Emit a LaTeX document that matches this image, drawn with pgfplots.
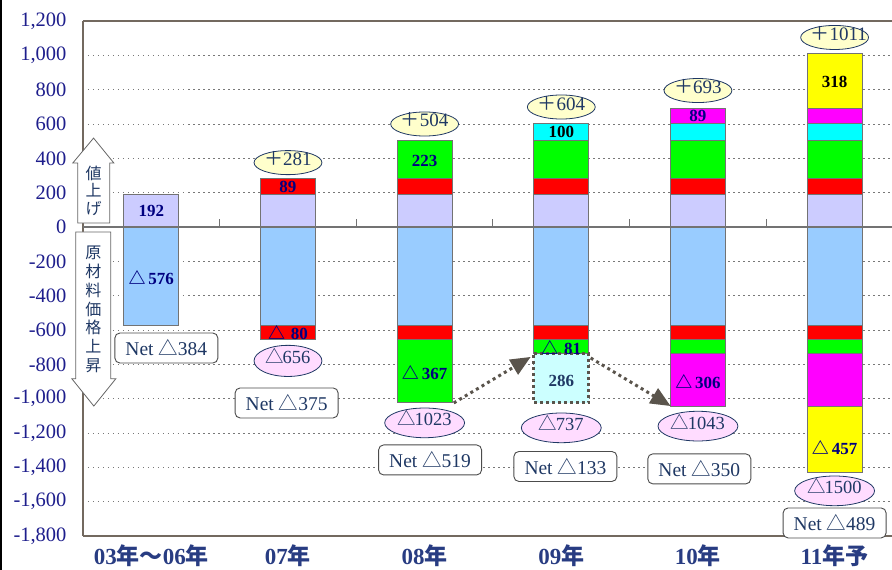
\documentclass[border=0pt]{standalone}
\usepackage{pgfplots}
\pgfplotsset{compat=1.18}
\usepackage{fontspec}
\setmainfont{Liberation Serif}
\newfontfamily\cjk{Noto Sans CJK JP}
\usetikzlibrary{arrows.meta,shapes.geometric}
\definecolor{lav}{RGB}{204,204,255}
\definecolor{lblue}{RGB}{153,204,255}
\definecolor{cred}{RGB}{255,0,0}
\definecolor{cgreen}{RGB}{0,255,0}
\definecolor{ccyan}{RGB}{0,255,255}
\definecolor{cmag}{RGB}{255,0,255}
\definecolor{cyel}{RGB}{255,255,0}
\definecolor{boxcyan}{RGB}{204,255,255}
\definecolor{navy}{RGB}{0,0,128}
\definecolor{dnavy}{RGB}{31,56,100}
\definecolor{ticknavy}{RGB}{30,30,140}
\definecolor{xlab}{RGB}{40,60,130}
\definecolor{edge}{RGB}{115,115,115}
\definecolor{framec}{RGB}{115,105,95}
\definecolor{gridc}{RGB}{120,120,120}
\definecolor{arrowgray}{RGB}{90,84,76}
\definecolor{ellY}{RGB}{255,255,204}
\definecolor{ellP}{RGB}{255,220,255}
\protected\def\J#1{{\cjk #1}}
\protected\def\tri{{\cjk △}}
\protected\def\trik{{\cjk △}\kern-1.5pt}
\protected\def\labA{03{\cjk 年}{\cjk\symbol{"FF5E}}06{\cjk 年}}
\protected\def\labB{07{\cjk 年}}
\protected\def\labC{08{\cjk 年}}
\protected\def\labD{09{\cjk 年}}
\protected\def\labE{10{\cjk 年}}
\protected\def\labF{11{\cjk 年予}}
\tikzset{
  blab/.style={font=\fontsize{17}{17}\selectfont\bfseries, text=navy, inner sep=0pt},
  netbox/.style={draw=black!70, line width=0.9pt, fill=white, rounded corners=5pt,
    minimum width=103pt, minimum height=30pt, inner sep=0pt,
    font=\fontsize{19.5}{19.5}\selectfont, text=dnavy},
  topell/.style={ellipse, fill=ellY, draw=dnavy, line width=0.8pt, inner sep=0pt,
    text width=48pt, align=center, text height=11.5pt, text depth=5.5pt,
    font=\fontsize{19}{19}\selectfont, text=dnavy},
  botell/.style={ellipse, fill=ellP, draw=dnavy, line width=0.8pt, inner sep=0pt,
    text width=56.5pt, align=center, text height=13.5pt, text depth=7.5pt,
    font=\fontsize{18.5}{18.5}\selectfont, text=dnavy},
  darr/.style={draw=arrowgray, line width=3pt, dash pattern=on 3pt off 3.5pt,
    -{Triangle[length=20pt,width=17pt]}, arrowgray},
  larrow/.style={fill=white, draw=black!60, line width=0.8pt},
  smalltick/.style={draw=black!55, line width=1pt},
}
\pgfplotsset{
  ax/.style={scale only axis, width=809pt, height=515pt,
    xmin=-0.5, xmax=5.42, ymin=-1800, ymax=1200},
}
\begin{document}
\begin{tikzpicture}
\begin{axis}[
  ax,
  ybar stacked, bar width=55pt,
  axis x line*=bottom, axis y line*=left,
  axis line style={draw=framec, line width=1.2pt},
  xtick={0,1,2,3,4,5},
  xticklabels={\labA,\labB,\labC,\labD,\labE,\labF},
  ytick={-1800,-1600,-1400,-1200,-1000,-800,-600,-400,-200,0,200,400,600,800,1000,1200},
  major tick length=0pt,
  /pgf/number format/.cd, 1000 sep={,}, assume math mode=true, /pgfplots/.cd,
  yticklabel style={font=\fontsize{20.5}{20.5}\selectfont, text=ticknavy, xshift=-13pt},
  xticklabel style={font=\fontsize{23}{23}\selectfont\bfseries, text=xlab, yshift=-5pt},
  ymajorgrids,
  grid style={draw=gridc, line width=0.9pt, dash pattern=on 1.5pt off 3.5pt},
  clip=false,
  every axis plot/.append style={draw=edge, line width=1pt},
]
\draw[framec, line width=1.2pt] (axis cs:-0.5,1200) -- (axis cs:5.42,1200);
\draw[draw=black!55, line width=1.3pt] (axis cs:-0.5,0) -- (axis cs:5.42,0);
\draw[smalltick] (axis cs:0.5,0) -- (axis cs:0.5,47);
\draw[smalltick] (axis cs:1.5,0) -- (axis cs:1.5,47);
\draw[smalltick] (axis cs:2.5,0) -- (axis cs:2.5,47);
\draw[smalltick] (axis cs:3.5,0) -- (axis cs:3.5,47);
\draw[smalltick] (axis cs:4.5,0) -- (axis cs:4.5,47);
% positive stack
\addplot[fill=lav] coordinates {(0,192) (1,192) (2,192) (3,192) (4,192) (5,192)};
\addplot[fill=cred] coordinates {(0,0) (1,89) (2,89) (3,89) (4,89) (5,89)};
\addplot[fill=cgreen] coordinates {(0,0) (1,0) (2,223) (3,223) (4,223) (5,223)};
\addplot[fill=ccyan] coordinates {(0,0) (1,0) (2,0) (3,100) (4,100) (5,100)};
\addplot[fill=cmag] coordinates {(0,0) (1,0) (2,0) (3,0) (4,89) (5,89)};
\addplot[fill=cyel] coordinates {(0,0) (1,0) (2,0) (3,0) (4,0) (5,318)};
% negative stack (stacks separately from zero)
\addplot[fill=lblue] coordinates {(0,-576) (1,-576) (2,-576) (3,-576) (4,-576) (5,-576)};
\addplot[fill=cred] coordinates {(0,0) (1,-80) (2,-80) (3,-80) (4,-80) (5,-80)};
\addplot[fill=cgreen] coordinates {(0,0) (1,0) (2,-367) (3,-81) (4,-81) (5,-81)};
\addplot[fill=cmag] coordinates {(0,0) (1,0) (2,0) (3,0) (4,-306) (5,-306)};
\addplot[fill=cyel] coordinates {(0,0) (1,0) (2,0) (3,0) (4,0) (5,-390)};
\end{axis}

\begin{axis}[ax, ybar stacked, bar width=55pt, hide axis, clip=false]
\addplot[draw=none, fill=none] coordinates {(3,-737)};
\addplot[fill=boxcyan, draw=arrowgray, line width=3pt, dash pattern=on 3pt off 3pt] coordinates {(3,-286)};
% arrows between columns
\draw[darr] (axis cs:2.213,-1025) -- (axis cs:2.776,-757);
\draw[darr] (axis cs:3.215,-763) -- (axis cs:3.80,-1043);
% left vertical arrows
\draw[larrow] (axis cs:-0.5378,23) -- (axis cs:-0.5378,373) -- (axis cs:-0.5744,373)
  -- (axis cs:-0.4228,518) -- (axis cs:-0.2744,373) -- (axis cs:-0.3037,373)
  -- (axis cs:-0.3037,23) -- cycle;
\draw[larrow] (axis cs:-0.5525,-29) -- (axis cs:-0.5525,-884) -- (axis cs:-0.5817,-884)
  -- (axis cs:-0.4207,-1043) -- (axis cs:-0.2598,-884) -- (axis cs:-0.2963,-884)
  -- (axis cs:-0.2963,-29) -- cycle;
\end{axis}

\begin{axis}[ax, hide axis, clip=false]
\node[align=center, inner sep=0pt, text=dnavy, font=\cjk\fontsize{16}{17.5}\selectfont] at (axis cs:-0.4228,213) {値\\上\\げ};
\node[align=center, inner sep=0pt, text=dnavy, font=\cjk\fontsize{16}{18.8}\selectfont] at (axis cs:-0.424,-480) {原\\材\\料\\価\\格\\上\\昇};

% segment labels
\node[blab] at (axis cs:0,96) {192};
\node[blab] at (axis cs:0,-295) {\tri\,576};
\node[blab] at (axis cs:1,236) {89};
\node[blab] at (axis cs:1,-616) {\tri\,\,80};
\node[blab] at (axis cs:2,385) {223};
\node[blab] at (axis cs:2,-848) {\tri\,367};
\node[blab, text=black] at (axis cs:3,554) {100};
\node[blab] at (axis cs:3,-702) {\tri\,\,81};
\node[blab, text=dnavy] at (axis cs:3,-895) {286};
\node[blab] at (axis cs:4,648) {89};
\node[blab] at (axis cs:4,-902) {\tri\,306};
\node[blab, text=black] at (axis cs:5,845) {318};
\node[blab] at (axis cs:5,-1285) {\tri\,457};

% top ellipses
\node[topell] at (axis cs:1,375) {\J{＋}281};
\node[topell] at (axis cs:2,600) {\J{＋}504};
\node[topell] at (axis cs:3,699) {\J{＋}604};
\node[topell] at (axis cs:4,795) {\J{＋}693};
\node[topell] at (axis cs:5,1104) {\J{＋}1011};

% bottom ellipses
\node[botell, text width=48pt, text height=14pt, text depth=8pt] at (axis cs:1,-780) {\trik656};
\node[botell] at (axis cs:2,-1141) {\trik1023};
\node[botell] at (axis cs:3,-1170) {\trik737};
\node[botell] at (axis cs:4,-1160) {\trik1043};
\node[botell] at (axis cs:5,-1537) {\trik1500};

% net boxes
\node[netbox] at (axis cs:0.11,-705) {Net \tri384};
\node[netbox] at (axis cs:0.99,-1025) {Net \tri375};
\node[netbox] at (axis cs:2.04,-1357) {Net \tri519};
\node[netbox] at (axis cs:3.03,-1395) {Net \tri133};
\node[netbox] at (axis cs:4.01,-1409) {Net \tri350};
\node[netbox] at (axis cs:5.0,-1724) {Net \tri489};
\end{axis}
\fill[black] (-83pt,-34pt) rectangle (-80.5pt,536pt);
\pgfresetboundingbox
\path[use as bounding box] (-83pt,-34pt) rectangle (809pt,536pt);
\end{tikzpicture}
\end{document}
